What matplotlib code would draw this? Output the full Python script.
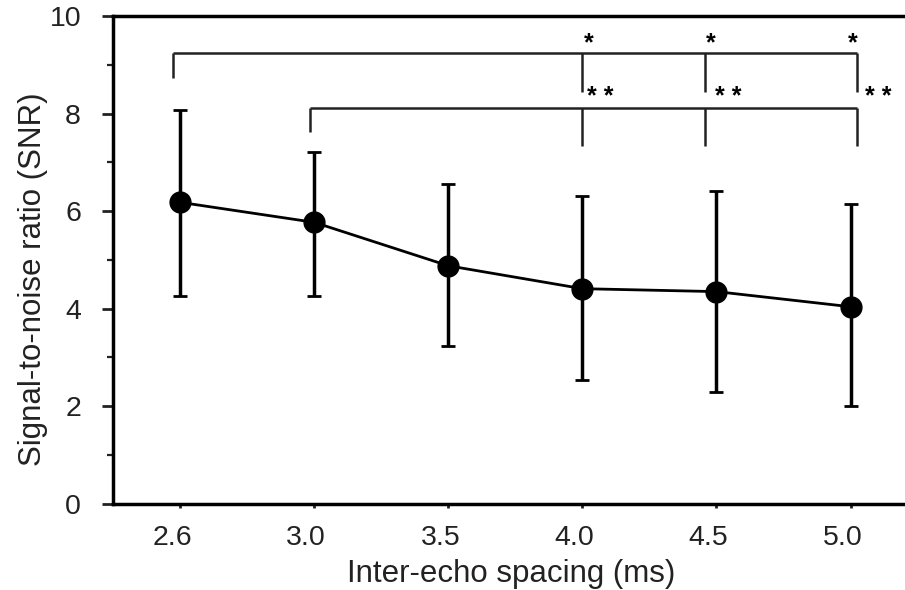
import matplotlib
matplotlib.use("Agg")
import matplotlib.pyplot as plt
import matplotlib.transforms as mtransforms
import numpy as np
from matplotlib.ticker import MultipleLocator

plt.rcParams["font.family"] = ["Liberation Sans", "DejaVu Sans"]

spacing_labels = ["2.6", "3.0", "3.5", "4.0", "4.5", "5.0"]
snr_mean = [6.18, 5.77, 4.88, 4.41, 4.35, 4.04]
snr_upper = [8.07, 7.22, 6.56, 6.31, 6.42, 6.14]
snr_lower = [4.27, 4.27, 3.24, 2.54, 2.30, 2.01]

x = np.arange(len(spacing_labels))
mean = np.array(snr_mean)
yerr = [mean - np.array(snr_lower), np.array(snr_upper) - mean]

fig = plt.figure(figsize=(9.05, 5.90), dpi=100)
ax = fig.add_axes([0.1249, 0.146, 0.8751, 0.827])

ax.errorbar(x, mean, yerr=yerr, fmt="none", ecolor="black", elinewidth=2.5,
            capsize=5, capthick=2.0, zorder=2)
ax.plot(x, mean, color="black", lw=2.0, marker="o", markersize=15, zorder=3)

ax.set_xlim(-0.5, 5.406)
ax.set_ylim(0, 10)
ax.set_xticks(x, labels=spacing_labels)
ax.yaxis.set_major_locator(MultipleLocator(2))
ax.yaxis.set_minor_locator(MultipleLocator(1))

ax.spines["right"].set_visible(False)
for side in ("left", "bottom", "top"):
    ax.spines[side].set_linewidth(2.5)

ax.tick_params(axis="y", which="major", length=8, width=2.0, pad=15, labelsize=20.5)
ax.tick_params(axis="y", which="minor", length=4, width=1.6)
ax.tick_params(axis="x", length=3, width=2.0, pad=12, labelsize=20.5)
ax.tick_params(colors="#222222", which="both")
for t in ax.get_xticklines() + ax.get_yticklines() + ax.yaxis.get_minorticklines():
    t.set_color("black")

# x tick labels sit slightly left of their ticks
shift = mtransforms.ScaledTranslation(-8 / 100, 0, fig.dpi_scale_trans)
for lbl in ax.get_xticklabels():
    lbl.set_transform(lbl.get_transform() + shift)

ax.set_xlabel("Inter-echo spacing (ms)", fontsize=22.5, color="#222222")
ax.xaxis.set_label_coords(0.503, -0.112)
ax.set_ylabel("Signal-to-noise ratio (SNR)", fontsize=22.5, color="#222222")
ax.yaxis.set_label_coords(-0.082, 0.46)

# significance brackets
br = dict(color="#222222", lw=1.8, solid_capstyle="butt", clip_on=False)
ax.plot([-0.052, 5.048], [9.24, 9.24], **br)
ax.plot([-0.052, -0.052], [9.24, 8.73], **br)
for xl in (3.0, 3.915, 5.048):
    ax.plot([xl, xl], [9.24, 8.44], **br)

ax.plot([0.969, 5.048], [8.11, 8.11], **br)
ax.plot([0.969, 0.969], [8.11, 7.62], **br)
for xl in (3.0, 3.915, 5.048):
    ax.plot([xl, xl], [8.11, 7.34], **br)

for xs in (3.05, 3.96, 5.02):
    ax.text(xs, 9.43, "*", ha="center", va="center", fontsize=18,
            fontweight="bold", clip_on=False)
for xs in (3.13, 4.09, 5.21):
    ax.text(xs, 8.34, "* *", ha="center", va="center", fontsize=18,
            fontweight="bold", clip_on=False)

fig.savefig("out.png", dpi=100)
